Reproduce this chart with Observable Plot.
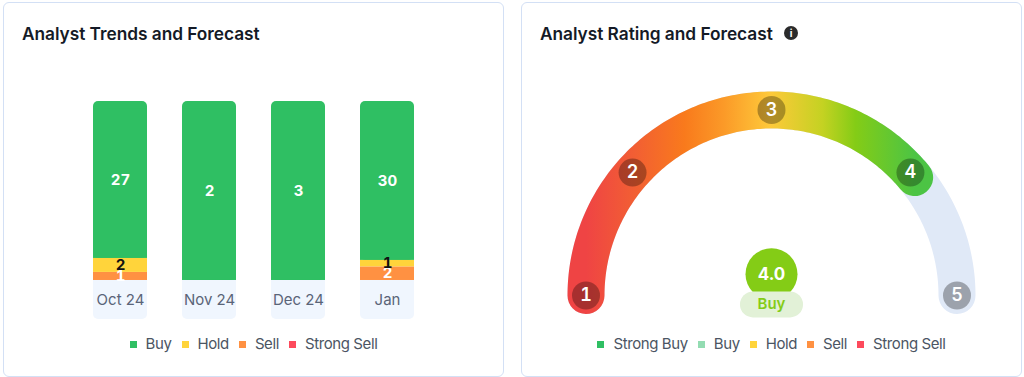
<!DOCTYPE html>
<html><head><meta charset="utf-8">
<script src="https://cdn.jsdelivr.net/npm/d3@7"></script>
<script src="https://cdn.jsdelivr.net/npm/@observablehq/plot@0.6"></script>
<style>
html,body{margin:0;padding:0;background:#fff;width:1024px;height:377px;overflow:hidden;font-family:Inter,"Noto Sans",sans-serif}
.card{position:absolute;top:2px;height:373px;width:499px;border:1px solid #d3e0f5;border-radius:6px;box-sizing:content-box;background:#fff}
.title{position:absolute;top:20px;font:600 17.3px Inter,sans-serif;color:#141a26;white-space:nowrap;line-height:22px;letter-spacing:-.03px}
.info{position:absolute;left:262px;top:23px;width:14px;height:14px;border-radius:50%;background:#2b2b2b;color:#fff;font:700 10px/14px Inter,sans-serif;text-align:center}
.chart{position:absolute;left:0;top:0}
.legend{position:absolute;top:330px;left:0;width:100%;display:flex;justify-content:center;gap:10px;font:400 15px/22px Inter,sans-serif;color:#4b5563;letter-spacing:-.4px}
.legend span{display:flex;align-items:center;gap:9px}
.legend i{display:block;width:7px;height:7px}
</style></head><body>
<div class="card" style="left:3px"><div class="title" style="left:18px">Analyst Trends and Forecast</div><div class="chart" id="bars"></div><div class="legend" id="leg1"></div></div>
<div class="card" style="left:521px"><div class="title" style="left:18px">Analyst Rating and Forecast</div><div class="info">i</div><div class="chart" id="gauge"></div><div class="legend" id="leg2"></div></div>
<script>
// Trend data
const months = ["Oct 24","Nov 24","Dec 24","Jan"];
const segments = ["Sell","Hold","Buy"];
const buyCount = [27,2,3,30];
const holdCount = [2,0,0,1];
const sellCount = [1,0,0,2];
const buyShare = [87.7,100,100,88.8];
const holdShare = [7.8,0,0,3.6];
const sellShare = [4.5,0,0,7.6];
const segColors = {Buy:"#2fbf63",Hold:"#ffd43b",Sell:"#ff9142","Strong Sell":"#fd4a5c"};
const labelColors = {Buy:"#fff",Hold:"#111",Sell:"#fff"};
const legendLeft = ["Buy","Hold","Sell","Strong Sell"];
// Gauge data
const ratings = [1,2,3,4,5];
const ratingAngles = [180,138.5,90,41.5,0];
const currentRating = 4.0, currentLabel = "Buy";
const progressEndAngle = 39.5;
const gradientOffsets = [0,.15,.3,.42,.56,.72,.82,1];
const gradientColors = ["#ef4444","#f25f33","#f97a1c","#fb9a28","#fec93a","#c4d222","#84cc16","#4cc444"];
const legendRight = [["Strong Buy","#2fbf63"],["Buy","#93dcb2"],["Hold","#ffd43b"],["Sell","#ff9142"],["Strong Sell","#fd4a5c"]];

const rows = [];
months.forEach((m,i)=>{
  rows.push({month:m,seg:"Sell",share:sellShare[i],count:sellCount[i]});
  rows.push({month:m,seg:"Hold",share:holdShare[i],count:holdCount[i]});
  rows.push({month:m,seg:"Buy",share:buyShare[i],count:buyCount[i]});
});
const labelFloor = -21.8, cornerInset = 4;
const stack = {x:"month",y:"share",order:null};
const buyRows = rows.filter(d=>d.seg==="Buy");
document.getElementById("bars").append(Plot.plot({
  width:499,height:373,margin:0,
  style:{background:"transparent",overflow:"visible"},
  x:{type:"band",domain:months,range:[88,411],paddingInner:.39,paddingOuter:0,axis:null},
  y:{domain:[labelFloor,100],range:[316,98],axis:null},
  marks:[
    // pale month cell: rounded shape, then a square body hides its top corners
    Plot.barY(months,{x:d=>d,y1:labelFloor,y2:0,fill:"#f0f6fe",rx:5,ry:5}),
    Plot.barY(months,{x:d=>d,y1:labelFloor+cornerInset,y2:0,fill:"#f0f6fe"}),
    // green: rounded top piece, square body covers its lower corners
    Plot.barY(buyRows,{x:"month",y1:d=>100-d.share,y2:100,fill:segColors.Buy,rx:5,ry:5}),
    Plot.barY(buyRows,{x:"month",y1:d=>100-d.share,y2:100-cornerInset,fill:segColors.Buy}),
    Plot.barY(rows.filter(d=>d.share>0&&d.seg!=="Buy"),Plot.stackY({...stack,fill:d=>segColors[d.seg]})),
    Plot.text(rows.filter(d=>d.count>0),Plot.stackY({...stack,text:"count",fill:d=>labelColors[d.seg],fontSize:15,fontWeight:700,fontFamily:"Inter"})),
    Plot.text(months,{x:d=>d,y:labelFloor/2,text:d=>d,fill:"#5a6478",fontSize:15,letterSpacing:-.2,fontFamily:"Inter"})
  ]
}));

const polar = (deg)=>({x:Math.cos(deg*Math.PI/180),y:Math.sin(deg*Math.PI/180)});
const sweep = (a,b)=>d3.range(a,b-.01,-1).concat([b]).map(polar);
const gradientMark = ()=>{
  const ns="http://www.w3.org/2000/svg";
  const defs=document.createElementNS(ns,"defs");
  const g=document.createElementNS(ns,"linearGradient");
  g.setAttribute("id","gaugeGrad");
  gradientOffsets.forEach((o,i)=>{const s=document.createElementNS(ns,"stop");s.setAttribute("offset",o);s.setAttribute("stop-color",gradientColors[i]);g.append(s);});
  defs.append(g);return defs;
};
const ticks = ratings.map((r,i)=>({r,...polar(ratingAngles[i])}));
document.getElementById("gauge").append(Plot.plot({
  width:499,height:373,margin:0,
  style:{background:"transparent",overflow:"visible"},
  x:{domain:[-1,1],range:[63.5,434.5],axis:null},
  y:{domain:[0,1],range:[292,106.5],axis:null},
  marks:[
    gradientMark,
    Plot.line(sweep(180,0),{x:"x",y:"y",stroke:"#e0e9f7",strokeWidth:37,strokeLinecap:"round"}),
    Plot.line(sweep(180,progressEndAngle),{x:"x",y:"y",stroke:"url(#gaugeGrad)",strokeWidth:37,strokeLinecap:"round"}),
    Plot.dot(ticks,{x:"x",y:"y",r:14,fill:"#000",fillOpacity:.3}),
    Plot.text(ticks,{x:"x",y:"y",text:"r",fill:"#fff",fontSize:18,fontWeight:600,fontFamily:"Inter"}),
    Plot.dot([currentRating],{x:0,y:.115,r:26,fill:"#84cc16"}),
    Plot.text([currentRating],{x:0,y:.115,text:d=>d.toFixed(1),fill:"#fff",fontSize:17,fontWeight:700,fontFamily:"Inter"}),
    Plot.link([currentLabel],{x1:-.1,x2:.1,y1:-.048,y2:-.048,stroke:"#e2f1d7",strokeWidth:26,strokeLinecap:"round"}),
    Plot.text([currentLabel],{x:0,y:-.048,text:d=>d,fill:"#84cc16",fontSize:15,fontWeight:600,fontFamily:"Inter"})
  ]
}));

const legend=(id,items)=>{
  const el=document.getElementById(id);
  items.forEach(([t,c])=>{
    const s=document.createElement("span");
    const i=document.createElement("i");i.style.background=c;
    s.append(i,document.createTextNode(t));el.append(s);
  });
};
legend("leg1",legendLeft.map(k=>[k,segColors[k]]));
legend("leg2",legendRight);
</script>
</body></html>
